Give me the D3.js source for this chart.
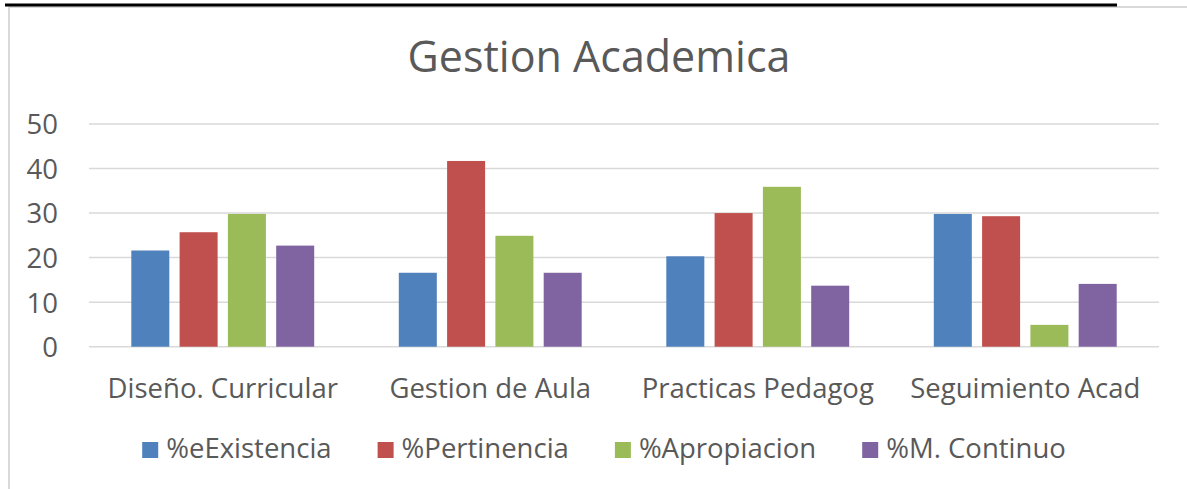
<!DOCTYPE html>
<html>
<head>
<meta charset="utf-8">
<script src="https://cdn.jsdelivr.net/npm/d3@7"></script>
<style>
  body { margin: 0; background: #fff; }
  text { font-family: "Open Sans", sans-serif; fill: #595959; }
</style>
</head>
<body>
<div id="chart"></div>
<script>
// data
var categories = ["Diseño. Curricular", "Gestion de Aula", "Practicas Pedagog", "Seguimiento Acad"];
var seriesNames = ["%eExistencia", "%Pertinencia", "%Apropiacion", "%M. Continuo"];
var seriesColors = ["#4F81BD", "#C0504D", "#9BBB59", "#8064A2"];
var existencia = [21.6, 16.6, 20.3, 29.8];
var pertinencia = [25.7, 41.7, 30.0, 29.3];
var apropiacion = [29.8, 24.9, 35.9, 4.9];
var continuo = [22.7, 16.6, 13.7, 14.1];
var yTicks = [0, 10, 20, 30, 40, 50];

var seriesValues = [existencia, pertinencia, apropiacion, continuo];

var width = 1187, height = 489;
var margin = {top: 124, right: 28, bottom: 142, left: 89};
var labelSize = "27.5px";

var svg = d3.select("#chart").append("svg")
    .attr("width", width)
    .attr("height", height);

// frame of the pasted chart
svg.append("line")
    .attr("x1", 9).attr("x2", width).attr("y1", 7).attr("y2", 7)
    .attr("stroke", "#d9d9d9").attr("stroke-width", 2);
svg.append("line")
    .attr("x1", 9).attr("x2", 9).attr("y1", 7).attr("y2", height)
    .attr("stroke", "#d9d9d9").attr("stroke-width", 2);
svg.append("line")
    .attr("x1", 5).attr("x2", 1117).attr("y1", 5).attr("y2", 5)
    .attr("stroke", "#000").attr("stroke-width", 3);

// title
svg.append("text")
    .attr("x", 599).attr("y", 72)
    .attr("text-anchor", "middle")
    .style("font-size", "43px")
    .text("Gestion Academica");

var y = d3.scaleLinear()
    .domain([0, 50])
    .range([height - margin.bottom - 0.3, margin.top]);

var x0 = d3.scaleBand()
    .domain(categories)
    .range([margin.left, width - margin.right]);

var x1 = d3.scaleBand()
    .domain(seriesNames)
    .range([0, x0.bandwidth()])
    .paddingInner(0.213)
    .paddingOuter(0.876);

// gridlines
svg.append("g")
    .selectAll("line")
    .data(yTicks)
    .enter().append("line")
    .attr("x1", margin.left)
    .attr("x2", width - margin.right)
    .attr("y1", function(d){ return y(d); })
    .attr("y2", function(d){ return y(d); })
    .attr("stroke", "#d9d9d9")
    .attr("stroke-width", 1.5);

// y axis labels
var yAxis = d3.axisLeft(y).tickValues(yTicks).tickSize(0).tickPadding(0);
var yg = svg.append("g")
    .attr("transform", "translate(58,0)")
    .call(yAxis);
yg.select(".domain").remove();
yg.selectAll("text")
    .style("font-size", labelSize)
    .style("font-family", "Open Sans, sans-serif")
    .attr("fill", "#595959")
    .attr("dy", "0.36em");

// bars
var groups = svg.append("g")
    .selectAll("g")
    .data(categories)
    .enter().append("g")
    .attr("transform", function(d){ return "translate(" + x0(d) + ",0)"; });

groups.selectAll("rect")
    .data(function(d, i){
        return seriesNames.map(function(s, j){
            return {series: s, value: seriesValues[j][i], color: seriesColors[j]};
        });
    })
    .enter().append("rect")
    .attr("x", function(d){ return x1(d.series); })
    .attr("width", x1.bandwidth())
    .attr("y", function(d){ return y(d.value); })
    .attr("height", function(d){ return y(0) - y(d.value); })
    .attr("fill", function(d){ return d.color; });

// category labels
var xAxis = d3.axisBottom(x0).tickSize(0).tickPadding(0);
var xg = svg.append("g")
    .attr("transform", "translate(0," + 398 + ")")
    .call(xAxis);
xg.select(".domain").remove();
xg.selectAll("text")
    .style("font-size", labelSize)
    .style("font-family", "Open Sans, sans-serif")
    .attr("fill", "#595959")
    .attr("dy", 0)
    .attr("y", 0);

// legend
var legend = svg.append("g");
var items = legend.selectAll("g")
    .data(seriesNames)
    .enter().append("g");
items.append("rect")
    .attr("width", 16).attr("height", 16)
    .attr("y", 442)
    .attr("fill", function(d, i){ return seriesColors[i]; });
items.append("text")
    .attr("x", 24).attr("y", 458)
    .style("font-size", labelSize)
    .text(function(d){ return d; });

var pos = 0;
var gap = 46;
items.each(function(){
    var w = 24 + d3.select(this).select("text").node().getComputedTextLength();
    d3.select(this).attr("transform", "translate(" + pos + ",0)");
    pos += w + gap;
});
var total = pos - gap;
legend.attr("transform", "translate(" + (604 - total / 2) + ",0)");
</script>
</body>
</html>
